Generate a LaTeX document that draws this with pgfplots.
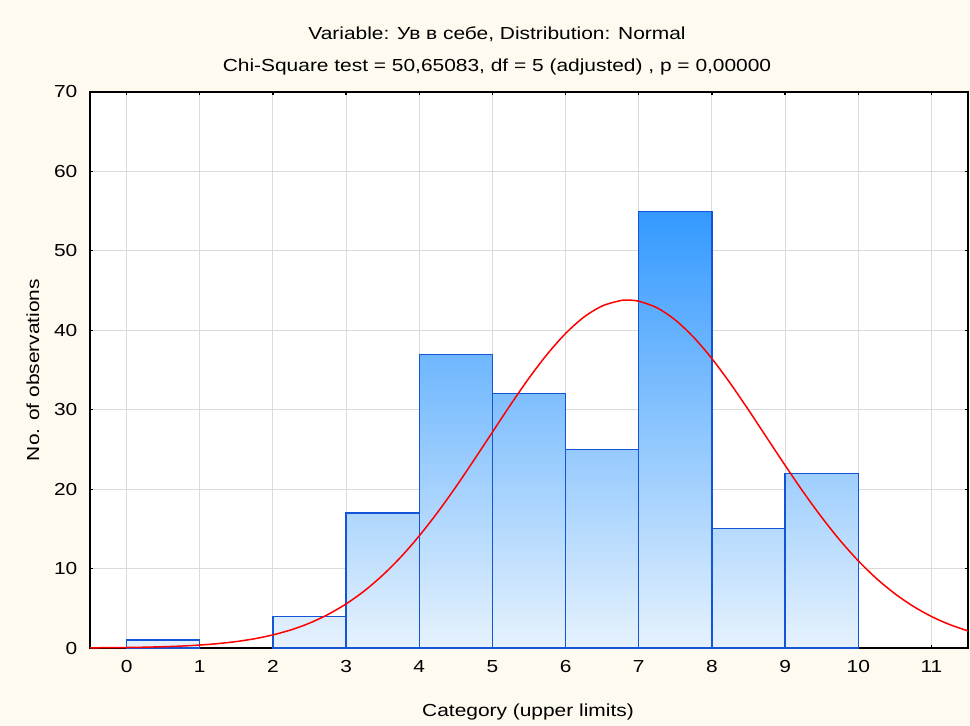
\documentclass[border=0pt]{standalone}
\usepackage{graphicx}
\usepackage{pgfplots}
\pgfplotsset{compat=1.18}
\usepackage{fontspec}
\setmainfont{Liberation Sans}

\definecolor{pagebg}{RGB}{254,250,239}
\definecolor{gridgray}{RGB}{218,218,218}
\definecolor{barlow}{RGB}{230,242,253}
\definecolor{barhigh}{RGB}{51,153,255}
\definecolor{baredge}{RGB}{20,85,215}
\definecolor{fitred}{RGB}{255,0,0}

% wide sans text as used throughout the chart
\newcommand{\chartfont}{\fontsize{17.5}{20}\selectfont}
\newcommand{\wide}[1]{\scalebox{1.2}[1]{#1}}

% each bar is shaded from the bottom colour to the colour of its own height,
% so that all bars share one vertical gradient running from 0 up to 55
\newcommand{\histbar}[3]{%
  \pgfmathtruncatemacro{\pct}{round(100*#3/55)}%
  \colorlet{bartop#3}{barhigh!\pct!barlow}%
  \addplot[draw=baredge, line width=1.2bp, bottom color=barlow,
           top color=bartop#3]
    coordinates {(#1,0) (#1,#3) (#2,#3) (#2,0)} -- cycle;}

\begin{document}
\begin{tikzpicture}[x=1bp,y=1bp]
\fill[pagebg] (-90bp,-78bp) rectangle (880bp,648bp);
\begin{axis}[
  at={(0,0)}, anchor=south west,
  scale only axis, width=878bp, height=556bp,
  axis background/.style={fill=white},
  xmin=-0.5, xmax=11.5, ymin=0, ymax=70,
  xtick={0,1,...,11}, ytick={0,10,...,70},
  grid=major,
  major grid style={gridgray, line width=1.1bp},
  axis line style={black, line width=1.7bp},
  tick style={black, line width=1.2bp},
  major tick length=3bp,
  xtick pos=both, ytick pos=both,
  tick align=inside,
  every tick label/.append style={font=\chartfont, xscale=1.2},
  /pgf/number format/assume math mode=true,
  xticklabel style={yshift=-9bp},
  yticklabel style={xshift=-7bp},
  clip=false,
]
% histogram: observed frequencies per category interval
\histbar{0}{1}{1}
\histbar{2}{3}{4}
\histbar{3}{4}{17}
\histbar{4}{5}{37}
\histbar{5}{6}{32}
\histbar{6}{7}{25}
\histbar{7}{8}{55}
\histbar{8}{9}{15}
\histbar{9}{10}{22}

% fitted normal curve (expected frequencies)
\addplot[fitred, line width=1.5bp, smooth] coordinates {
  (-0.5,0.023) (-0.25,0.039) (0,0.063) (0.25,0.101) (0.5,0.159)
  (0.75,0.245) (1,0.371) (1.25,0.554) (1.5,0.810) (1.75,1.166)
  (2,1.65) (2.25,2.29) (2.5,3.13) (2.75,4.21) (3,5.55)
  (3.25,7.19) (3.5,9.17) (3.75,11.47) (4,14.12) (4.25,17.07)
  (4.5,20.28) (4.75,23.69) (5,27.18) (5.25,30.66) (5.5,33.98)
  (5.75,37.00) (6,39.60) (6.25,41.66) (6.5,43.06) (6.75,43.74)
  (6.85,43.8) (7,43.66) (7.25,42.83) (7.5,41.29) (7.75,39.12)
  (8,36.43) (8.25,33.33) (8.5,29.97) (8.75,26.48) (9,23.00)
  (9.25,19.62) (9.5,16.46) (9.75,13.56) (10,10.98) (10.25,8.74)
  (10.5,6.84) (10.75,5.26) (11,3.97) (11.25,2.95) (11.5,2.15)
};
\end{axis}

\node[font=\chartfont] at (407bp,614bp)
  {\wide{Variable: Ув в себе, Distribution: Normal}};
\node[font=\chartfont] at (407bp,581bp)
  {\wide{Chi-Square test = 50,65083, df = 5 (adjusted) , p = 0,00000}};
\node[font=\chartfont, rotate=90] at (-57bp,278bp)
  {\wide{No. of observations}};
\node[font=\chartfont] at (438bp,-64bp)
  {\wide{Category (upper limits)}};

\pgfresetboundingbox
\path (-90bp,-78bp) rectangle (880bp,648bp);
\end{tikzpicture}
\end{document}
